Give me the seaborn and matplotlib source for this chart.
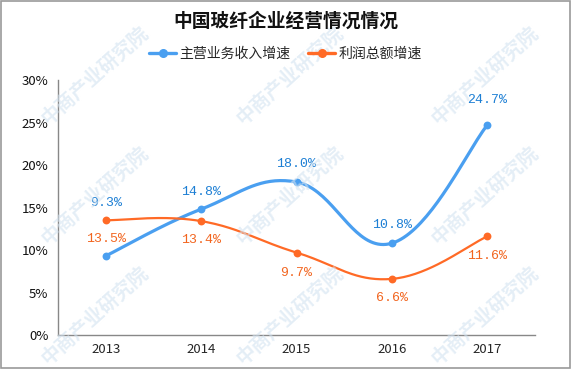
import numpy as np
import pandas as pd
import seaborn as sns
import matplotlib.pyplot as plt
from matplotlib.patches import Rectangle
from matplotlib.lines import Line2D

years = ["2013", "2014", "2015", "2016", "2017"]
revenue = [9.3, 14.8, 18.0, 10.8, 24.7]
profit = [13.5, 13.4, 9.7, 6.6, 11.6]
series_names = ["主营业务收入增速", "利润总额增速"]

blue = "#4a9ff0"
orange = "#ff6a26"
blue_txt = "#1d7fd4"
orange_txt = "#f2651f"

sns.set_style("white")
plt.rcParams["font.family"] = ["Noto Sans CJK SC", "DejaVu Sans"]


def smooth_curve(vals, s=0.2, n=40):
    # bezier smoothing between the data points (like echarts smooth line)
    pts = np.column_stack([np.arange(len(vals), dtype=float), np.asarray(vals, float)])
    out = []
    for i in range(len(pts) - 1):
        p0, p3 = pts[i], pts[i + 1]
        prev = pts[i - 1] if i > 0 else p0
        nxt = pts[i + 2] if i + 2 < len(pts) else p3
        c1 = p0 + s * (p3 - prev)
        c2 = p3 - s * (nxt - p0)
        t = np.linspace(0, 1, n)[:, None]
        b = (1 - t) ** 3 * p0 + 3 * (1 - t) ** 2 * t * c1 + 3 * (1 - t) * t ** 2 * c2 + t ** 3 * p3
        out.append(b if i == 0 else b[1:])
    return np.vstack(out)


fig = plt.figure(figsize=(5.71, 3.69), dpi=100)
ax = fig.add_axes([58 / 571, 1 - 335 / 369, 477 / 571, 255 / 369])

# faint watermark
for cx in [95, 290, 485]:
    for cy in [75, 195, 315]:
        fig.text(cx / 571, 1 - cy / 369, "中商产业研究院", rotation=42, fontsize=14,
                 fontweight="bold", color="#d3e3f1", alpha=0.6, ha="center", va="center",
                 zorder=0)

for vals, col in [(revenue, blue), (profit, orange)]:
    c = smooth_curve(vals)
    lw = 2.3 if col == blue else 1.6
    sns.lineplot(x=c[:, 0], y=c[:, 1], ax=ax, color=col, lw=lw, sort=False, zorder=3)
    sns.scatterplot(x=np.arange(len(years)), y=vals, ax=ax, color=col, s=32,
                    edgecolor=col, linewidth=0, zorder=4)

# label offsets in pixels
rev_off = [53, 17, 18, 18, 25]
prof_off = [-19, -19, -20, -19, -20]
for i in range(len(years)):
    ax.annotate(f"{revenue[i]:.1f}%", (i, revenue[i]), xytext=(0, rev_off[i]),
                textcoords="offset pixels", ha="center", va="center",
                fontsize=9.5, family="Liberation Mono", color=blue_txt, zorder=5)
    ax.annotate(f"{profit[i]:.1f}%", (i, profit[i]), xytext=(0, prof_off[i]),
                textcoords="offset pixels", ha="center", va="center",
                fontsize=9.5, family="Liberation Mono", color=orange_txt, zorder=5)

ax.set_xlim(-0.5, 4.5)
ax.set_ylim(0, 30)
ax.set_xticks(np.arange(-0.5, 5, 1))
ax.set_xticklabels([])
ax.set_xticks(np.arange(len(years)), minor=True)
ax.set_xticklabels(years, minor=True, fontsize=9.5)
ax.tick_params(axis="x", which="minor", length=0, pad=6)
ax.tick_params(axis="x", which="major", length=4, color="#888888", direction="out")
ax.set_yticks(np.arange(0, 31, 5))
ax.set_yticklabels([f"{v}%" for v in range(0, 31, 5)], fontsize=9.5)
ax.tick_params(axis="y", length=4, color="#888888", direction="out", pad=3)
ax.tick_params(axis="both", labelcolor="#111111")
ax.set_xlabel("")
ax.set_ylabel("")
for sp in ["top", "right"]:
    ax.spines[sp].set_visible(False)
for sp in ["left", "bottom"]:
    ax.spines[sp].set_color("#888888")
    ax.spines[sp].set_linewidth(1)
ax.patch.set_alpha(0)

fig.text(0.5, 1 - 21 / 369, "中国玻纤企业经营情况情况", ha="center", va="center",
         fontsize=13.5, fontweight="bold", color="#111111")

handles = [Line2D([0], [0], color=blue, lw=2.4, marker="o", markersize=5.5),
           Line2D([0], [0], color=orange, lw=2.4, marker="o", markersize=5.5)]
fig.legend(handles, series_names, loc="center", bbox_to_anchor=(0.5, 1 - 54 / 369),
           ncol=2, frameon=False, fontsize=10, handlelength=1.9, handletextpad=0.25,
           columnspacing=1.3, markerscale=1)

fig.patches.append(Rectangle((0.001, 0.002), 0.997, 0.995, transform=fig.transFigure,
                             fill=False, edgecolor="#9a9a9a", linewidth=1.2))

fig.savefig("out.png", dpi=100)
